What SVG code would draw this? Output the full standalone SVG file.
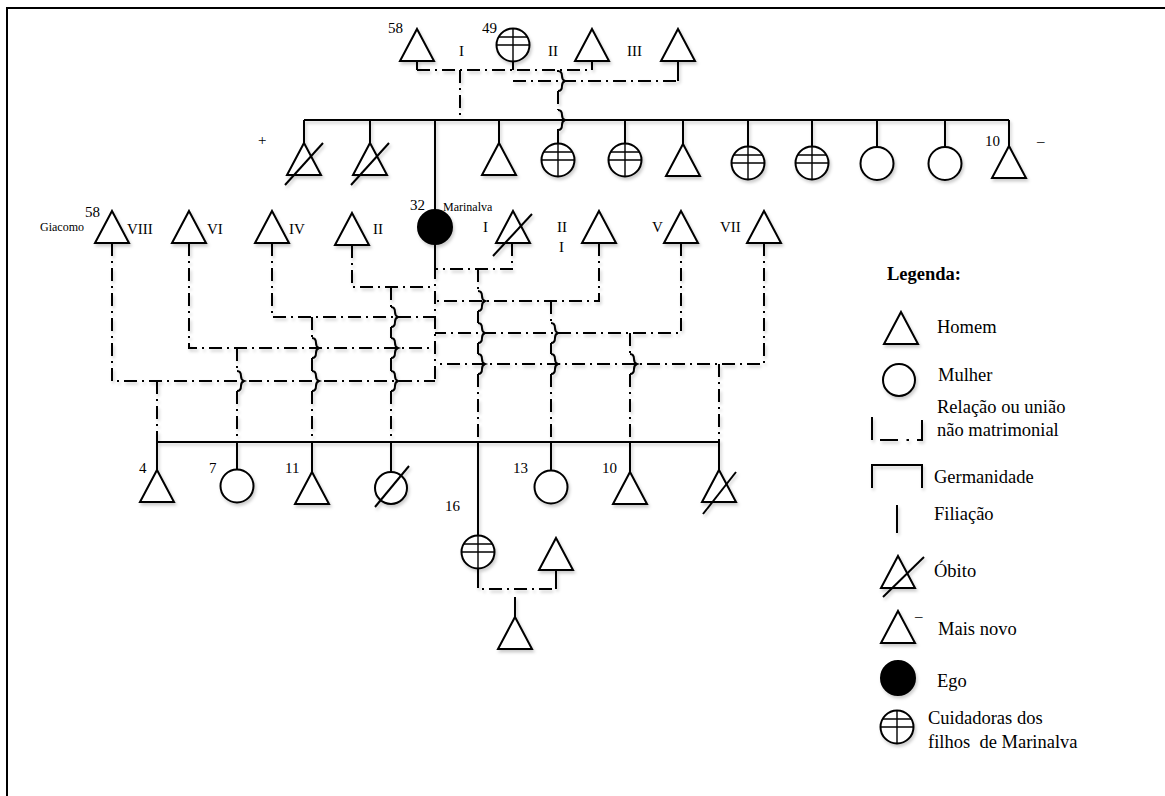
<svg xmlns="http://www.w3.org/2000/svg" width="1165" height="796" viewBox="0 0 1165 796">
<defs>
<style>
.ln{fill:none;stroke:#000;stroke-width:2}
.dd{stroke-dasharray:13 5 2 5}
.sh{fill:#fff;stroke:#000;stroke-width:2}
.ego{fill:#000;stroke:#000;stroke-width:2}
.sym{filter:url(#shadow)}
.conn{filter:url(#shadowL)}
text{font-family:"Liberation Serif","Times New Roman",serif;fill:#000}
.lb{font-size:15px}
.sm{font-size:12px}
.lg{font-size:18.5px}
.hd{font-size:18.5px;font-weight:bold}
</style>
<filter id="shadow" x="-40%" y="-40%" width="180%" height="180%">
<feDropShadow dx="1.5" dy="2.5" stdDeviation="1.4" flood-color="#000" flood-opacity="0.2"/>
</filter>
<filter id="shadowL" filterUnits="userSpaceOnUse" x="0" y="0" width="1165" height="796">
<feDropShadow dx="1.5" dy="2.5" stdDeviation="1.4" flood-color="#000" flood-opacity="0.2"/>
</filter>
<!-- man: apex at origin -->
<path id="tri" d="M0,0 L17,32 L-17,32 Z"/>
<!-- caregiver: hatched circle centred at origin -->
<g id="hc">
<circle r="16.5" fill="#fff" stroke="#000" stroke-width="2"/>
<path d="M0,-16.5 V16.5 M-16.5,0 H16.5 M-14.4,-8 H14.4" fill="none" stroke="#000" stroke-width="1.4"/>
</g>
</defs>

<rect width="1165" height="796" fill="#fff"/>
<path d="M7,796 V8 H1165" fill="none" stroke="#000" stroke-width="2"/>

<!-- connectors -->
<g id="connectors" class="conn">
<!-- grandparents' unions -->
<path class="ln" d="M417,61 V70 M513,62 V70 M592,61 V70 M678,61 V81"/>
<path class="ln dd" d="M417,70 H592"/>
<path class="ln dd" d="M513,81 H678"/>
<path class="ln dd" d="M460,70 V120"/>
<path class="ln" d="M558,70 V71 Q562,71 562,76 Q562,80 565,81 Q562,82 562,86 Q562,91 558,91"/>
<path class="ln dd" d="M558,91 V110"/>
<path class="ln" d="M558,110 Q562,110 562,115 Q562,119 565,120 Q562,121 562,125 Q562,130 558,130 V143.5"/>
<!-- sibling line of Marinalva -->
<path class="ln" d="M304,120 H1009"/>
<path class="ln" d="M304,120 V143 M370,120 V143 M435,120 V210 M499,120 V143 M625,120 V143.5 M683,120 V144 M748,120 V146.5 M812,120 V146.5 M877,120 V147 M945,120 V147 M1009,120 V148"/>

<!-- Marinalva's unions -->
<path class="ln" d="M435,244 V266"/>
<path class="ln dd" d="M435,266 V381"/>
<path class="ln dd" d="M112,243 V381 H435"/>
<path class="ln dd" d="M189,243 V348 H435"/>
<path class="ln dd" d="M272,243 V317 H435"/>
<path class="ln dd" d="M352,245 V287 H435"/>
<path class="ln dd" d="M512,243 V269 H435"/>
<path class="ln dd" d="M599,243 V301 H435"/>
<path class="ln dd" d="M681,243 V333 H435"/>
<path class="ln dd" d="M764,243 V364 H435"/>

<!-- descent lines, with hops over crossing unions -->
<path class="ln dd" d="M157,381 V442"/>
<path class="ln dd" d="M237,348 V371 M237,391 V442"/>
<path class="ln dd" d="M312,317 V338 M312,358 V371 M312,391 V442"/>
<path class="ln dd" d="M391,287 V307 M391,327 V338 M391,358 V371 M391,391 V442"/>
<path class="ln dd" d="M478,269 V291 M478,311 V323 M478,343 V354 M478,374 V442"/>
<path class="ln dd" d="M551,301 V323 M551,343 V354 M551,374 V442"/>
<path class="ln dd" d="M630,333 V354 M630,374 V442"/>
<path class="ln dd" d="M719,364 V442"/>
<path class="ln" d="M237,371 q4,0 4,5 q0,4 3,5 q-3,1 -3,5 q0,5 -4,5
M312,338 q4,0 4,5 q0,4 3,5 q-3,1 -3,5 q0,5 -4,5
M312,371 q4,0 4,5 q0,4 3,5 q-3,1 -3,5 q0,5 -4,5
M391,307 q4,0 4,5 q0,4 3,5 q-3,1 -3,5 q0,5 -4,5
M391,338 q4,0 4,5 q0,4 3,5 q-3,1 -3,5 q0,5 -4,5
M391,371 q4,0 4,5 q0,4 3,5 q-3,1 -3,5 q0,5 -4,5
M478,291 q4,0 4,5 q0,4 3,5 q-3,1 -3,5 q0,5 -4,5
M478,323 q4,0 4,5 q0,4 3,5 q-3,1 -3,5 q0,5 -4,5
M478,354 q4,0 4,5 q0,4 3,5 q-3,1 -3,5 q0,5 -4,5
M551,323 q4,0 4,5 q0,4 3,5 q-3,1 -3,5 q0,5 -4,5
M551,354 q4,0 4,5 q0,4 3,5 q-3,1 -3,5 q0,5 -4,5
M630,354 q4,0 4,5 q0,4 3,5 q-3,1 -3,5 q0,5 -4,5"/>

<!-- Marinalva's children -->
<path class="ln" d="M157,442 H719"/>
<path class="ln" d="M157,442 V470 M237,442 V469.5 M312,442 V473 M391,442 V472 M551,442 V471 M630,442 V472 M719,442 V470 M478,442 V535.5"/>
<!-- grandchild -->
<path class="ln" d="M478,569 V575 M556,571 V589"/>
<path class="ln dd" d="M478,575 V589 H556"/>
<path class="ln" d="M515,597 V617"/>
</g>

<!-- grandparents -->
<g id="gf-58"><g class="sym"><use href="#tri" class="sh" x="417" y="29"/></g><text class="lb" x="388" y="33">58</text></g>
<g id="gm-49"><g class="sym"><use href="#hc" x="513" y="45"/></g><text class="lb" x="482" y="33">49</text></g>
<g id="union-I"><text class="lb" x="459" y="56">I</text></g>
<g id="gf-II"><g class="sym"><use href="#tri" class="sh" x="592" y="29"/></g><text class="lb" x="548" y="56">II</text></g>
<g id="gf-III"><g class="sym"><use href="#tri" class="sh" x="678" y="29"/></g><text class="lb" x="627" y="56">III</text></g>

<!-- Marinalva's siblings -->
<g id="order-older"><text class="lb" x="258" y="145">+</text></g>
<g id="sib-1"><g class="sym"><use href="#tri" class="sh" x="304" y="143"/><path class="ln" d="M285,185 L323,143"/></g></g>
<g id="sib-2"><g class="sym"><use href="#tri" class="sh" x="370" y="143"/><path class="ln" d="M351,185 L389,143"/></g></g>
<g id="sib-4"><g class="sym"><use href="#tri" class="sh" x="499" y="143"/></g></g>
<g id="sib-5"><g class="sym"><use href="#hc" x="558" y="160"/></g></g>
<g id="sib-6"><g class="sym"><use href="#hc" x="625" y="160"/></g></g>
<g id="sib-7"><g class="sym"><use href="#tri" class="sh" x="683" y="144"/></g></g>
<g id="sib-8"><g class="sym"><use href="#hc" x="748" y="163"/></g></g>
<g id="sib-9"><g class="sym"><use href="#hc" x="812" y="163"/></g></g>
<g id="sib-10"><g class="sym"><circle class="sh" cx="877" cy="163.5" r="16.5"/></g></g>
<g id="sib-11"><g class="sym"><circle class="sh" cx="945" cy="163.5" r="16.5"/></g></g>
<g id="sib-12"><g class="sym"><use href="#tri" class="sh" x="1009" y="146"/></g><text class="lb" x="985" y="146">10</text></g>
<g id="order-younger"><text class="lb" x="1037" y="146">–</text></g>

<!-- Marinalva (ego) and partners -->
<g id="marinalva"><g class="sym"><circle class="ego" cx="435" cy="227" r="17"/></g><text class="lb" x="410" y="210">32</text><text class="sm" x="443" y="211">Marinalva</text></g>
<g id="p-VIII"><g class="sym"><use href="#tri" class="sh" x="112" y="211"/></g><text class="sm" x="40" y="231">Giacomo</text><text class="lb" x="85" y="217">58</text><text class="lb" x="127" y="234">VIII</text></g>
<g id="p-VI"><g class="sym"><use href="#tri" class="sh" x="189" y="211"/></g><text class="lb" x="207" y="234">VI</text></g>
<g id="p-IV"><g class="sym"><use href="#tri" class="sh" x="272" y="211"/></g><text class="lb" x="289" y="234">IV</text></g>
<g id="p-II"><g class="sym"><use href="#tri" class="sh" x="352" y="213"/></g><text class="lb" x="373" y="234">II</text></g>
<g id="p-I"><g class="sym"><use href="#tri" class="sh" x="513" y="211"/><path class="ln" d="M493,256 L532,214"/></g><text class="lb" x="483" y="232">I</text></g>
<g id="p-III"><g class="sym"><use href="#tri" class="sh" x="599" y="211"/></g><text class="lb" x="557" y="232">II</text><text class="lb" x="559" y="252">I</text></g>
<g id="p-V"><g class="sym"><use href="#tri" class="sh" x="681" y="211"/></g><text class="lb" x="652" y="232">V</text></g>
<g id="p-VII"><g class="sym"><use href="#tri" class="sh" x="764" y="211"/></g><text class="lb" x="720" y="232">VII</text></g>

<!-- Marinalva's children -->
<g id="c-4"><g class="sym"><use href="#tri" class="sh" x="157" y="470"/></g><text class="lb" x="139" y="473">4</text></g>
<g id="c-7"><g class="sym"><circle class="sh" cx="237" cy="486" r="16.5"/></g><text class="lb" x="209" y="473">7</text></g>
<g id="c-11"><g class="sym"><use href="#tri" class="sh" x="312" y="472"/></g><text class="lb" x="285" y="473">11</text></g>
<g id="c-dec"><g class="sym"><circle class="sh" cx="391" cy="488" r="16"/><path class="ln" d="M375,507 L409,466"/></g></g>
<g id="c-16"><g class="sym"><use href="#hc" x="478" y="552"/></g><text class="lb" x="445" y="511">16</text></g>
<g id="c-13"><g class="sym"><circle class="sh" cx="551" cy="487" r="16.5"/></g><text class="lb" x="513" y="473">13</text></g>
<g id="c-10"><g class="sym"><use href="#tri" class="sh" x="630" y="472"/></g><text class="lb" x="602" y="473">10</text></g>
<g id="c-dec2"><g class="sym"><use href="#tri" class="sh" x="719" y="470"/><path class="ln" d="M703,514 L736,472"/></g></g>
<g id="c16-partner"><g class="sym"><use href="#tri" class="sh" x="556" y="538"/></g></g>
<g id="grandchild"><g class="sym"><use href="#tri" class="sh" x="515" y="617"/></g></g>

<!-- legend -->
<g id="legend">
<text class="hd" x="887" y="280">Legenda:</text>
<g class="sym"><use href="#tri" class="sh" x="901" y="312"/></g>
<text class="lg" x="937" y="333">Homem</text>
<g class="sym"><circle class="sh" cx="899" cy="380" r="16"/></g>
<text class="lg" x="938" y="381">Mulher</text>
<g class="sym"><path class="ln" d="M872,417 V440 M880,440 H898 M906.5,440 H909 M917,440 H922 V420"/></g>
<text class="lg" x="937" y="413">Relação ou união</text>
<text class="lg" x="937" y="436">não matrimonial</text>
<g class="sym"><path class="ln" d="M872,488 V465 H922 V488"/></g>
<text class="lg" x="934" y="483">Germanidade</text>
<g class="conn"><path class="ln" d="M897,505 V533"/></g>
<text class="lg" x="934" y="520">Filiação</text>
<g class="sym"><use href="#tri" class="sh" x="898" y="556"/><path class="ln" d="M883,597 L924,557"/></g>
<text class="lg" x="934" y="577">Óbito</text>
<g class="sym"><use href="#tri" class="sh" x="898" y="611"/></g>
<text class="lb" x="915" y="621">–</text>
<text class="lg" x="938" y="635">Mais novo</text>
<g class="sym"><circle class="ego" cx="898" cy="678" r="17"/></g>
<text class="lg" x="937" y="687">Ego</text>
<g class="sym"><use href="#hc" x="897" y="727"/></g>
<text class="lg" x="928" y="724">Cuidadoras dos</text>
<text class="lg" x="928" y="748" style="white-space:pre">filhos  de Marinalva</text>
</g>
</svg>
